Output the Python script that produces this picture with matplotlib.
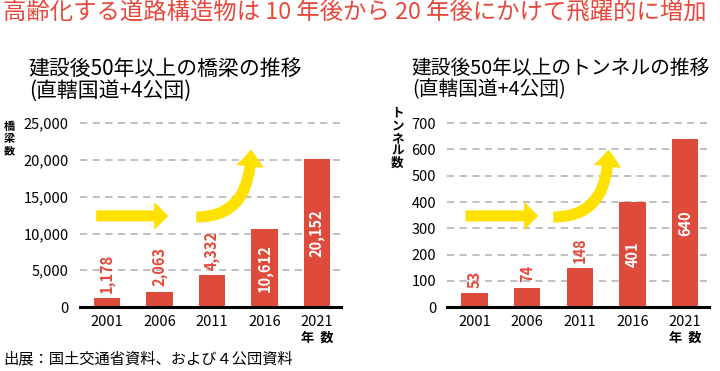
import matplotlib.pyplot as plt
from matplotlib.patches import FancyArrowPatch

plt.rcParams['font.family'] = ['Noto Sans CJK JP', 'DejaVu Sans']

years = ['2001', '2006', '2011', '2016', '2021']
bridges = [1178, 2063, 4332, 10612, 20152]
tunnels = [53, 74, 148, 401, 640]
bridge_ticks = [0, 5000, 10000, 15000, 20000, 25000]
tunnel_ticks = [0, 100, 200, 300, 400, 500, 600, 700]

red = '#DE4B3A'
txt_red = '#E8473A'
yellow = '#FFE100'


def draw_panel(ax, vals, ticks, ymax, inside_from, ylab, ylab_pos, fmt):
    x = range(len(years))
    ax.bar(x, vals, width=0.5, color=red, zorder=3)
    ax.set_xlim(-0.52, 4.46)
    ax.set_ylim(0, ymax)
    ax.set_yticks(ticks)
    ax.set_yticklabels([fmt(t) for t in ticks], fontsize=10.5)
    ax.set_xticks(list(x))
    ax.set_xticklabels(years, fontsize=10.5)
    ax.tick_params(length=0, pad=6)
    ax.tick_params(axis='y', pad=8)
    for s in ax.spines.values():
        s.set_visible(False)
    for t in ticks[1:]:
        ax.axhline(t, color='#BBBBBB', lw=1.3, ls=(0, (4, 3)), zorder=1)
    ax.axhline(0, color='black', lw=2.2, zorder=4, clip_on=False)
    for i, v in enumerate(vals):
        if i >= inside_from:
            ax.text(i, v / 2, fmt(v), rotation=90, ha='center', va='center',
                    color='white', fontsize=10.5, fontweight='bold', zorder=5)
        else:
            ax.annotate(fmt(v), (i, v), xytext=(0, 4), textcoords='offset points',
                        rotation=90, ha='center', va='bottom', color=txt_red,
                        fontsize=10.5, fontweight='bold', zorder=5)
    ax.text(4, -0.125, '年  数', transform=ax.get_xaxis_transform(), ha='center',
            va='top', fontsize=9.5, fontweight='bold')
    ax.text(ylab_pos[0], ylab_pos[1], ylab, transform=ax.transAxes, ha='center',
            va='top', fontsize=ylab_pos[2], fontweight='bold', linespacing=0.95)


def arrows(ax, s1, e1, s2, e2):
    a = FancyArrowPatch(s1, e1, transform=ax.transAxes,
                        arrowstyle='simple,head_length=9,head_width=18,tail_width=7',
                        mutation_scale=1, color=yellow, shrinkA=0, shrinkB=0,
                        zorder=6, clip_on=False)
    ax.add_patch(a)
    b = FancyArrowPatch(s2, e2, transform=ax.transAxes,
                        connectionstyle='angle3,angleA=0,angleB=90',
                        arrowstyle='simple,head_length=11,head_width=18,tail_width=7',
                        mutation_scale=1, color=yellow, shrinkA=0, shrinkB=0,
                        zorder=6, clip_on=False)
    ax.add_patch(b)


fig = plt.figure(figsize=(7.2, 3.71), dpi=100)
ax1 = fig.add_axes([0.111, 0.1725, 0.3625, 0.5052])
ax2 = fig.add_axes([0.621, 0.1725, 0.364, 0.5052])

draw_panel(ax1, bridges, bridge_ticks, 25500, 3, '橋\n梁\n数', (-0.272, 1.0, 8),
           lambda v: f'{v:,}')
draw_panel(ax2, tunnels, tunnel_ticks, 714, 3, 'ト\nン\nネ\nル\n数', (-0.19, 1.067, 9),
           lambda v: f'{v}')

arrows(ax1, (0.065, 0.486), (0.335, 0.486), (0.448, 0.48), (0.655, 0.835))
arrows(ax2, (0.073, 0.486), (0.344, 0.486), (0.408, 0.48), (0.615, 0.835))

fig.text(0.004, 0.995, '高齢化する道路構造物は 10 年後から 20 年後にかけて飛躍的に増加',
         color=txt_red, fontsize=16.8, ha='left', va='top')
fig.text(0.04, 0.845, '建設後50年以上の橋梁の推移\n(直轄国道+4公団)', fontsize=15,
         ha='left', va='top', linespacing=1.0)
fig.text(0.572, 0.845, '建設後50年以上のトンネルの推移\n(直轄国道+4公団)', fontsize=14.2,
         ha='left', va='top', linespacing=1.05)
fig.text(0.004, 0.01, '出展：国土交通省資料、および４公団資料', fontsize=11,
         ha='left', va='bottom')

fig.savefig('out.png', dpi=100)
